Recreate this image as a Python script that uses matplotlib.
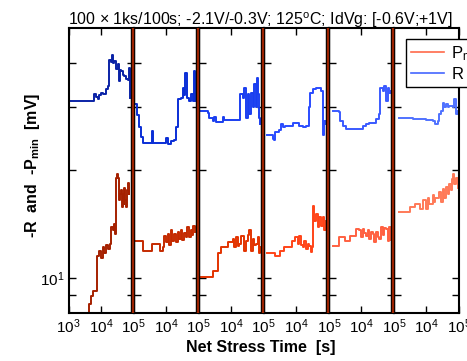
import matplotlib
matplotlib.use("Agg")
import matplotlib.pyplot as plt
from matplotlib.lines import Line2D
from matplotlib.ticker import FixedLocator, NullLocator

plt.rcParams['font.family'] = ['Liberation Sans', 'DejaVu Sans']
plt.rcParams['mathtext.fontset'] = 'custom'
plt.rcParams['mathtext.rm'] = 'Liberation Sans'
plt.rcParams['mathtext.it'] = 'Liberation Sans:italic'
plt.rcParams['mathtext.bf'] = 'Liberation Sans:bold'

# ---------------- data (time in s, values in mV) ----------------
r_t1 = [1012, 6223, 7000, 7870, 8850, 9950, 11750, 14190, 15960, 17140, 20230, 21680, 23820, 25590,
        28770, 32360, 34750, 36310, 39080, 41020, 46130, 51880, 58480, 65770, 70630, 73960, 77620]
r_v1 = [31.3, 32.7, 32.0, 31.6, 32.5, 33.0, 32.8, 33.7, 34.5, 40.8, 40.3, 42.0, 40.0, 40.4,
        38.5, 39.6, 37.0, 35.6, 38.2, 37.9, 36.9, 36.7, 36.0, 35.9, 38.5, 38.7, 31.9]
p_t1 = [3162, 3614, 4169, 4909, 5534, 7328, 8851, 9954, 11220, 12590, 14190, 15960, 19280, 20230,
        22750, 25590, 27480, 28770, 30900, 32360, 34750, 36310, 39080, 41020, 44060, 46130, 49550,
        51880, 55720, 58480, 62660, 65770, 70630, 73960]
p_v1 = [7.0, 7.9, 8.48, 8.95, 9.24, 11.57, 11.9, 11.4, 12.2, 11.8, 12.35, 12.05, 12.5, 13.9,
        13.6, 14.2, 13.3, 19.1, 19.5, 19.0, 18.8, 16.5, 17.2, 17.6, 15.8, 17.2, 16.1,
        17.9, 16.5, 15.8, 17.6, 18.4, 17.2, 17.9]

r_t2 = [1104, 1259, 1479, 1738, 1991, 3673, 3981, 9886, 11150, 14090, 17830, 19950, 22590, 28580,
        33730, 36310, 38820, 42660, 49200, 57940, 65310, 73450, 75860]
r_v2 = [30.6, 28.5, 26.5, 24.8, 23.9, 25.8, 23.9, 24.7, 23.7, 24.2, 24.4, 26.4, 31.6, 31.9,
        34.0, 32.5, 37.5, 31.9, 31.3, 32.7, 31.3, 37.9, 31.3]
p_t2 = [1104, 1991, 3673, 6457, 7816, 8790, 9886, 11220, 12590, 14130, 15490, 17780, 19950, 22390,
        25120, 28180, 31620, 35480, 39810, 44670, 50120, 56230, 63100, 69180, 75860]
p_v2 = [12.7, 11.95, 12.46, 11.95, 12.2, 13.15, 12.6, 13.3, 12.4, 13.6, 12.7, 13.3, 12.6, 13.5,
        12.9, 13.6, 12.8, 13.4, 13.0, 13.9, 13.0, 13.6, 13.2, 14.0, 13.5]

r_t3 = [1177, 1888, 2123, 2685, 3020, 3388, 4305, 5445, 6124, 17700, 18580, 22390, 25230, 28380,
        31920, 35890, 40460, 45500, 51170, 57540, 61800, 67920, 72950, 78160]
r_v3 = [29.3, 29.0, 28.1, 27.5, 28.2, 27.4, 27.4, 28.2, 27.6, 27.6, 32.7, 31.9, 34.0, 28.1,
        32.7, 28.7, 33.0, 30.0, 34.8, 30.0, 36.3, 32.7, 28.1, 26.9]
p_t3 = [1177, 2812, 4009, 4842, 8128, 11070, 12450, 14000, 15740, 17700, 19950, 22390, 25230,
        28380, 31920, 35890, 40460, 45500, 51170, 57540, 64570, 72950, 78160]
p_v3 = [10.06, 10.5, 11.8, 12.2, 12.6, 12.9, 12.2, 13.0, 12.3, 12.5, 13.1, 13.15, 11.95,
        12.7, 13.2, 13.6, 11.95, 12.9, 12.4, 12.5, 13.0, 11.8, 12.2]

r_t4 = [1225, 1871, 2104, 2259, 2999, 3373, 3981, 4581, 7709, 9310, 11780, 15630, 19770, 23880,
        26240, 31700, 40180, 53330, 58480, 64420, 72440, 81470]
r_v4 = [25.2, 24.5, 24.3, 25.6, 25.9, 26.9, 26.4, 26.6, 27.2, 27.2, 26.7, 26.4, 26.7, 30.0,
        33.0, 33.7, 34.0, 34.0, 33.3, 25.2, 27.5, 26.9]
p_t4 = [1225, 2208, 3148, 4276, 7345, 9310, 10960, 11780, 13900, 15630, 17580, 19770, 22280,
        25060, 28180, 30270, 31700, 35650, 40180, 45190, 50820, 57150, 64420, 72440, 81470]
p_v4 = [11.8, 11.57, 11.95, 12.2, 12.7, 13.0, 12.5, 13.15, 12.4, 12.2, 12.7, 12.07, 12.5,
        12.3, 11.82, 12.2, 15.9, 14.5, 15.1, 13.9, 14.8, 14.0, 14.8, 13.6, 14.5]

r_t5 = [1315, 2009, 2208, 2667, 3373, 8670, 10960, 13900, 17580, 22280, 28180, 34040, 38280,
        45190, 50820, 57150, 64420, 72440, 81470]
r_v5 = [29.3, 29.1, 27.5, 26.6, 26.2, 26.2, 26.6, 26.9, 27.1, 27.2, 27.8, 28.7, 34.0,
        33.3, 34.4, 31.3, 34.0, 33.0, 33.3]
p_t5 = [1315, 2109, 3221, 4477, 6855, 8670, 9750, 10960, 12360, 13900, 15630, 17580, 19820,
        22280, 25060, 28180, 31700, 35650, 40180, 45190, 50820, 57150, 64420, 72440, 81470]
p_v5 = [12.3, 13.0, 12.7, 13.15, 13.7, 13.6, 13.0, 13.7, 13.4, 13.15, 13.6, 12.9, 13.5,
        13.3, 12.6, 13.45, 13.0, 12.9, 13.9, 13.2, 13.8, 13.7, 12.7, 13.9, 12.8]

r_t6 = [1469, 3776, 9683, 15520, 18750, 22130, 24890, 27990, 31480, 35480, 39900, 44870, 50470,
        63830, 71780, 80910, 90990]
r_v6 = [28.0, 27.8, 27.6, 27.5, 26.9, 27.5, 28.7, 29.3, 30.9, 30.0, 30.6, 30.0, 30.3,
        30.0, 31.6, 28.7, 29.3]
p_t6 = [1469, 3126, 4550, 6486, 7656, 9683, 10890, 12250, 15520, 17460, 18750, 24890, 27990,
        31480, 35480, 39900, 44870, 50470, 56750, 60950, 66990, 71780, 80910, 90990]
p_v6 = [15.3, 15.8, 16.1, 15.6, 16.5, 15.6, 16.8, 16.1, 17.1, 16.3, 16.8, 17.4, 16.3,
        17.8, 16.8, 18.0, 17.2, 18.3, 17.6, 18.9, 19.5, 18.3, 19.1, 17.9]

r_times = [r_t1, r_t2, r_t3, r_t4, r_t5, r_t6]
r_vals = [r_v1, r_v2, r_v3, r_v4, r_v5, r_v6]
p_times = [p_t1, p_t2, p_t3, p_t4, p_t5, p_t6]
p_vals = [p_v1, p_v2, p_v3, p_v4, p_v5, p_v6]

r_colors = ['#0a22a6', '#0a2ed6', '#1a3ef0', '#2a4cff', '#3a5aff', '#5072ff']
p_colors = ['#a52000', '#c42a00', '#e33300', '#ff4418', '#ff6040', '#ff7a58']

title = '100 $\\times$ 1ks/100s; -2.1V/-0.3V; 125$^{\\rm o}$C; IdVg: [-0.6V;+1V]'
xlabel = 'Net Stress Time  [s]'
ylabel = '-R  and  -P$_{\\mathbf{min}}$  [mV]'
legend_labels = ['P$_{\\rm min}$', 'R']

# ---------------- figure ----------------
W, H = 467, 361
fig = plt.figure(figsize=(W / 100, H / 100), dpi=100)

left_px, right_px, top_px, bot_px = 68.5, 459.0, 28.0, 313.0
n = 6
pw = (right_px - left_px) / n

axes = []
for i in range(n):
    x0 = (left_px + i * pw) / W
    ax = fig.add_axes([x0, (H - bot_px) / H, pw / W, (bot_px - top_px) / H])
    ax.set_xscale('log')
    ax.set_yscale('log')
    ax.set_xlim(1e3, 1e5)
    ax.set_ylim(8, 50)
    ax.plot(p_times[i], p_vals[i], color=p_colors[i], lw=1.4, drawstyle='steps-post')
    ax.plot(r_times[i], r_vals[i], color=r_colors[i], lw=1.4, drawstyle='steps-post')
    for s in ax.spines.values():
        s.set_linewidth(1.5)
    ax.yaxis.set_major_locator(FixedLocator([10]))
    ax.yaxis.set_minor_locator(FixedLocator([9, 20, 30, 40]))
    if i == 0:
        ax.xaxis.set_major_locator(FixedLocator([1e3, 1e4, 1e5]))
        ax.set_xticklabels(['$10^{3}$', '$10^{4}$', '$10^{5}$'])
        ax.set_yticklabels(['$10^{1}$'])
    else:
        ax.xaxis.set_major_locator(FixedLocator([1e4, 1e5]))
        ax.set_xticklabels(['$10^{4}$', '$10^{5}$'])
        ax.set_yticklabels([])
    ax.xaxis.set_minor_locator(NullLocator())
    ax.yaxis.set_minor_formatter(plt.NullFormatter())
    ax.tick_params(which='both', direction='in', length=5, width=1.0,
                   top=True, right=True, labelsize=11, pad=3)
    axes.append(ax)

# separators between panels
for i in range(1, n):
    xb = (left_px + i * pw - 1.0) / W
    y0, y1 = (H - bot_px) / H, (H - top_px) / H
    fig.add_artist(Line2D([xb, xb], [y0, y1], color='black', lw=3.2, solid_capstyle='butt'))
    fig.add_artist(Line2D([xb, xb], [y0, y1], color='#9a2200', lw=1.6, solid_capstyle='butt'))

fig.text(260.5 / W, (H - 25) / H, title, ha='center', va='baseline', fontsize=11.5)
fig.text(261 / W, 9 / H, xlabel, ha='center', va='baseline', fontsize=11.5, fontweight='bold')
fig.text(33 / W, (H - 165) / H, ylabel, ha='center', va='center', rotation=90,
         fontsize=11.5, fontweight='bold')

handles = [Line2D([], [], color='#ff6a4a', lw=1.2), Line2D([], [], color='#4466ff', lw=1.2)]
leg = fig.legend(handles, legend_labels, loc='upper left',
                 bbox_to_anchor=(405.5 / W, (H - 39) / H), bbox_transform=fig.transFigure,
                 fontsize=12, frameon=True, fancybox=False, edgecolor='black',
                 handlelength=2.0, handletextpad=0.45, borderpad=0.3, labelspacing=0.25,
                 borderaxespad=0)
leg.get_frame().set_linewidth(1.0)
leg.get_frame().set_alpha(1.0)

fig.savefig('out.png', dpi=100)
